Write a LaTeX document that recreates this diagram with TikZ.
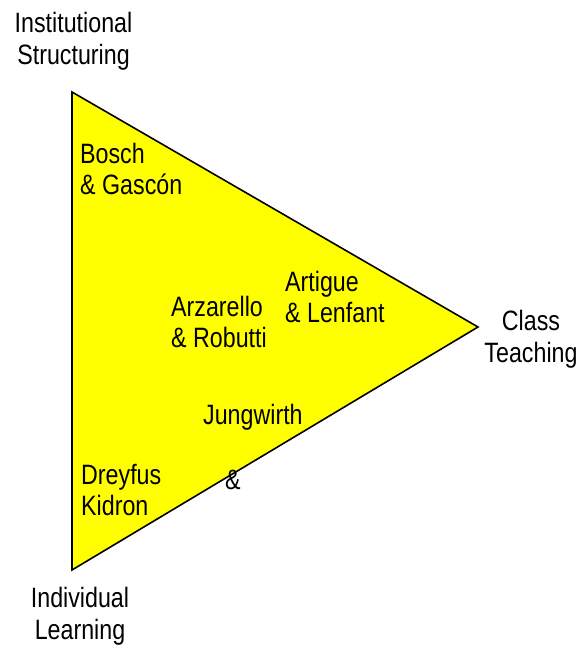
\documentclass[tikz,border=0pt]{standalone}
\usepackage{fontspec}
\setmainfont{Liberation Sans}[FakeStretch=0.83]
\usepackage{tikz}
\usetikzlibrary{positioning}

\definecolor{triyellow}{RGB}{255,255,0}

\tikzset{
  cornerlbl/.style={font=\fontsize{28}{32}\selectfont, inner sep=0pt, anchor=north, align=center},
  authorlbl/.style={font=\fontsize{28}{31}\selectfont, inner sep=0pt, anchor=north west, align=left}
}

\begin{document}
\begin{tikzpicture}[x=1pt, y=1pt]
  \useasboundingbox (0,0) rectangle (581,646);

  % Vertices of the triangle
  \coordinate (top) at (72,554);
  \coordinate (right) at (478,319);
  \coordinate (bottom) at (72,76);
  \draw[fill=triyellow, line width=1.6pt, line join=miter] (top) -- (right) -- (bottom) -- cycle;

  % Corner labels
  \node[cornerlbl] (inst) at (73.5,634) {Institutional\\Structuring};
  \node[cornerlbl] (class) at (531,336) {Class\\Teaching};
  \node[cornerlbl] (indiv) at (80,59) {Individual\\Learning};

  % Authors inside the triangle
  \node[authorlbl] (bosch) at (80,503) {Bosch\\\& Gasc\'on};
  \node[authorlbl] (artigue) at (285,375) {Artigue\\\& Lenfant};
  \node[authorlbl] (arzarello) at (171,350) {Arzarello\\\& Robutti};
  \node[authorlbl] (jungwirth) at (203,242) {Jungwirth};
  \node[authorlbl] (amp) at (225,176) {\&};
  \node[authorlbl] (dreyfus) at (81,182) {Dreyfus\\Kidron};
\end{tikzpicture}
\end{document}
